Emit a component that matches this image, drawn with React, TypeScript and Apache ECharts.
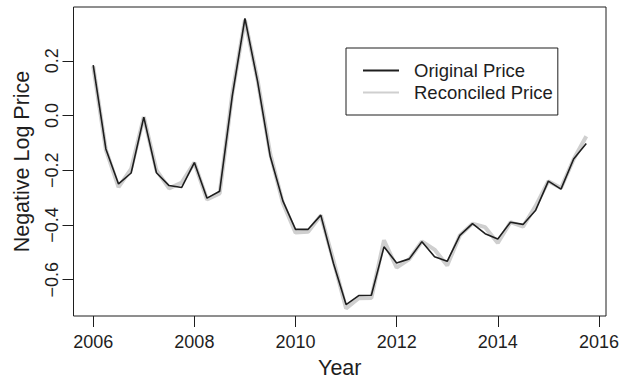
import React, { useEffect, useRef } from "react";
import * as echarts from "echarts";

// Quarterly observation dates
const quarters = [
  2006, 2006.25, 2006.5, 2006.75, 2007, 2007.25, 2007.5, 2007.75,
  2008, 2008.25, 2008.5, 2008.75, 2009, 2009.25, 2009.5, 2009.75,
  2010, 2010.25, 2010.5, 2010.75, 2011, 2011.25, 2011.5, 2011.75,
  2012, 2012.25, 2012.5, 2012.75, 2013, 2013.25, 2013.5, 2013.75,
  2014, 2014.25, 2014.5, 2014.75, 2015, 2015.25, 2015.5, 2015.75,
];

// Negative log price, original series
const originalPrice = [
  0.184, -0.122, -0.25, -0.21, -0.006, -0.209, -0.256, -0.263,
  -0.172, -0.302, -0.277, 0.072, 0.355, 0.125, -0.149, -0.312,
  -0.416, -0.416, -0.364, -0.54, -0.691, -0.658, -0.657, -0.48,
  -0.539, -0.524, -0.461, -0.516, -0.533, -0.438, -0.395, -0.432,
  -0.451, -0.39, -0.398, -0.346, -0.24, -0.269, -0.159, -0.102,
];

// Negative log price, reconciled series
const reconciledPrice = [
  0.18, -0.125, -0.262, -0.195, -0.005, -0.2, -0.266, -0.245,
  -0.172, -0.307, -0.285, 0.08, 0.35, 0.13, -0.14, -0.32,
  -0.428, -0.425, -0.365, -0.53, -0.705, -0.668, -0.667, -0.456,
  -0.556, -0.525, -0.46, -0.49, -0.548, -0.438, -0.395, -0.408,
  -0.466, -0.39, -0.406, -0.33, -0.24, -0.265, -0.16, -0.076,
];

const xTicks = [2006, 2008, 2010, 2012, 2014, 2016];
const yTicks = [-0.6, -0.4, -0.2, 0, 0.2];

const FONT = '"Liberation Sans", Arial, Helvetica, sans-serif';
const INK = "#1e1e1e";
const TICK_FS = 18;
const TITLE_FS = 21.5;
const LEGEND_FS = 18.5;

// Pad a data range by 4% on each side, as base graphics do
function padded(values: number[]): [number, number] {
  const lo = Math.min(...values);
  const hi = Math.max(...values);
  const d = (hi - lo) * 0.04;
  return [lo - d, hi + d];
}

export default function App() {
  const ref = useRef<HTMLDivElement>(null);

  useEffect(() => {
    if (!ref.current) return;
    const chart = echarts.init(ref.current, undefined, { renderer: "svg" });
    const [xMin, xMax] = padded(quarters);
    const [yMin, yMax] = padded(originalPrice);

    const fmtY = (v: number) => {
      const s = Math.abs(v).toFixed(1);
      return v < -1e-9 ? "\u2212" + s : s;
    };

    chart.setOption({
      animation: false,
      backgroundColor: "#ffffff",
      textStyle: { fontFamily: FONT, color: INK },
      grid: {
        left: 73.5,
        right: 14,
        top: 7,
        bottom: 64,
        outerBoundsMode: "none",
        containLabel: false,
        show: true,
        borderColor: INK,
        borderWidth: 1,
        backgroundColor: "transparent",
      },
      legend: {
        data: ["Original Price", "Reconciled Price"],
        orient: "vertical",
        left: 346,
        top: 48,
        itemWidth: 36,
        itemHeight: 18,
        itemGap: 3,
        padding: [13, 5, 13, 16],
        borderColor: INK,
        borderWidth: 1,
        borderRadius: 0,
        itemStyle: { opacity: 0 },
        textStyle: {
          fontFamily: FONT,
          fontSize: LEGEND_FS,
          color: INK,
          padding: [0, 0, 0, 10],
        },
      },
      xAxis: {
        type: "value",
        min: xMin,
        max: xMax,
        name: "Year",
        nameLocation: "middle",
        nameGap: 41,
        nameTextStyle: { fontFamily: FONT, fontSize: TITLE_FS, color: INK },
        axisLine: { show: false, onZero: false },
        splitLine: { show: false },
        axisTick: {
          show: true,
          length: 11,
          customValues: xTicks,
          lineStyle: { color: INK, width: 1 },
        },
        axisLabel: {
          customValues: xTicks,
          margin: 17,
          fontFamily: FONT,
          fontSize: TICK_FS,
          color: INK,
          formatter: (v: number) => String(Math.round(v)),
        },
      },
      yAxis: {
        type: "value",
        min: yMin,
        max: yMax,
        name: "Negative Log Price",
        nameLocation: "middle",
        nameGap: 41,
        nameRotate: 90,
        nameTextStyle: { fontFamily: FONT, fontSize: TITLE_FS, color: INK },
        axisLine: { show: false, onZero: false },
        splitLine: { show: false },
        axisTick: {
          show: true,
          length: 11,
          customValues: yTicks,
          lineStyle: { color: INK, width: 1 },
        },
        axisLabel: {
          customValues: yTicks,
          rotate: 90,
          margin: 13,
          fontFamily: FONT,
          fontSize: TICK_FS,
          color: INK,
          formatter: fmtY,
        },
      },
      series: [
        {
          name: "Reconciled Price",
          type: "line",
          data: quarters.map((q, i) => [q, reconciledPrice[i]]),
          showSymbol: false,
          symbol: "none",
          lineStyle: { color: "#cfcfcf", width: 4 },
          itemStyle: { color: "#cfcfcf" },
          z: 2,
        },
        {
          name: "Original Price",
          type: "line",
          data: quarters.map((q, i) => [q, originalPrice[i]]),
          showSymbol: false,
          symbol: "none",
          lineStyle: { color: INK, width: 1.6 },
          itemStyle: { color: INK },
          z: 3,
        },
      ],
    });

    return () => chart.dispose();
  }, []);

  return (
    <div
      ref={ref}
      style={{ position: "absolute", left: 0, top: 0, width: 620, height: 380 }}
    />
  );
}
